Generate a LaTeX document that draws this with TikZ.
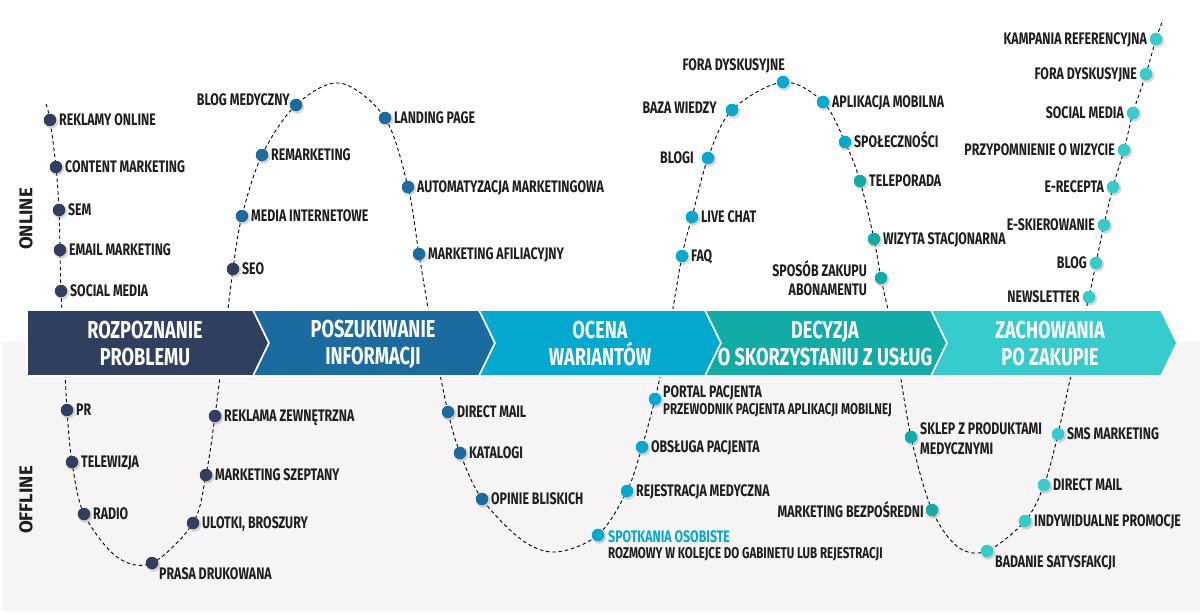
\documentclass[tikz,border=0pt]{standalone}
\usepackage{fontspec}
\setmainfont{Fira Sans}[FakeStretch=0.74]
\newfontfamily\sidefont{Fira Sans}
\usetikzlibrary{shadows}
\definecolor{cnavy}{HTML}{2E3F5F}
\definecolor{cblue}{HTML}{1B6BA1}
\definecolor{ccyan}{HTML}{03A9CF}
\definecolor{cteal}{HTML}{11ACA6}
\definecolor{clight}{HTML}{36CBCD}
\definecolor{cgray}{HTML}{F6F4F5}
\definecolor{ctext}{HTML}{1E1E1E}
\tikzset{
 curve/.style={draw=black, line width=0.9pt, dash pattern=on 3.5pt off 2.8pt},
 seg/.style={draw=white, line width=1.6pt},
 head/.style={text=white, font=\bfseries\fontsize{24.5}{27}\selectfont, align=center, inner sep=0pt},
 dot/.style={circle, fill=#1, minimum size=12.5pt, inner sep=0pt,
   circular drop shadow={shadow xshift=0.8pt, shadow yshift=-1.2pt, opacity=0.35, fill=black!45, shadow scale=1.2}},
 lab/.style={text=ctext, font=\bfseries\fontsize{16.7}{20}\selectfont, inner sep=0pt, text height=11.5pt, text depth=0pt},
 sublab/.style={text=ctext, font=\bfseries\fontsize{15.6}{18}\selectfont, inner sep=0pt, text height=10.7pt, text depth=0pt},
 side/.style={text=ctext, font=\sidefont\bfseries\fontsize{18.5}{20}\selectfont, rotate=90, inner sep=0pt},
}
\newcommand\dotR[3]{\node[dot=#2] (#1D) at (#1) {};
  \node[lab, anchor=west] (#1L) at ([xshift=2.5pt]#1D.east) {#3};}
\newcommand\dotL[3]{\node[dot=#2] (#1D) at (#1) {};
  \node[lab, anchor=east] (#1L) at ([xshift=-2.5pt]#1D.west) {#3};}
\newcommand\dotO[2]{\node[dot=#2] (#1D) at (#1) {};}
\begin{document}
\begin{tikzpicture}[x=1pt,y=-1pt]
\useasboundingbox (0,0) rectangle (1200,614);
\fill[white] (0,0) rectangle (1200,614);
\fill[cgray] (2,342) rectangle (1200,611);
% curve points
\coordinate (c0) at (46,104);
\coordinate (reklamy) at (50,120);
\coordinate (content) at (56,167);
\coordinate (sem) at (59,210);
\coordinate (email) at (60,250);
\coordinate (socialA) at (61,291);
\coordinate (b1) at (64,350);
\coordinate (pr) at (67,410);
\coordinate (telew) at (72,462);
\coordinate (radio) at (84,514);
\coordinate (u1) at (117,557);
\coordinate (prasa) at (152,563);
\coordinate (ulotki) at (193,523);
\coordinate (szept) at (206,475);
\coordinate (zewn) at (215,416);
\coordinate (b2) at (224,343);
\coordinate (seo) at (233,269);
\coordinate (media) at (242,216);
\coordinate (remark) at (262,155);
\coordinate (blogmed) at (296,105);
\coordinate (t1) at (340,83);
\coordinate (landing) at (385,118);
\coordinate (autom) at (408,187);
\coordinate (afil) at (419,254);
\coordinate (b3) at (434,343);
\coordinate (dmail) at (448,412);
\coordinate (katalogi) at (460,453);
\coordinate (opinie) at (482,499);
\coordinate (u2) at (522,540);
\coordinate (u2b) at (556,552);
\coordinate (spotk) at (598,535);
\coordinate (rejestr) at (627,491);
\coordinate (obsl) at (642,447);
\coordinate (portal) at (655,399);
\coordinate (b4) at (667,343);
\coordinate (faq) at (682,256);
\coordinate (live) at (692,217);
\coordinate (blogi) at (708,158);
\coordinate (baza) at (732,110);
\coordinate (fora) at (783,82);
\coordinate (aplik) at (823,102);
\coordinate (spol) at (845,142);
\coordinate (telep) at (860,181);
\coordinate (wizyta) at (874,239);
\coordinate (sposob) at (881,278);
\coordinate (b5) at (895,343);
\coordinate (sklep) at (911,437);
\coordinate (mbezp) at (932,510);
\coordinate (u3) at (958,547);
\coordinate (badanie) at (987,551);
\coordinate (indyw) at (1025,521);
\coordinate (dmailB) at (1044,485);
\coordinate (sms) at (1058,434);
\coordinate (b6) at (1078,343);
\coordinate (newsl) at (1089,297);
\coordinate (blog) at (1096,263);
\coordinate (eskier) at (1104,225);
\coordinate (erec) at (1113,187);
\coordinate (przyp) at (1124,150);
\coordinate (socialB) at (1133,113);
\coordinate (foraB) at (1146,74);
\coordinate (kamp) at (1156,39);
\coordinate (c1) at (1163,20);
\draw[curve] plot[smooth, tension=0.55] coordinates {(c0) (reklamy) (content) (sem) (email) (socialA) (b1) (pr) (telew) (radio) (u1) (prasa) (ulotki) (szept) (zewn) (b2) (seo) (media) (remark) (blogmed) (t1) (landing) (autom) (afil) (b3) (dmail) (katalogi) (opinie) (u2) (u2b) (spotk) (rejestr) (obsl) (portal) (b4) (faq) (live) (blogi) (baza) (fora) (aplik) (spol) (telep) (wizyta) (sposob) (b5) (sklep) (mbezp) (u3) (badanie) (indyw) (dmailB) (sms) (b6) (newsl) (blog) (eskier) (erec) (przyp) (socialB) (foraB) (kamp) (c1)};
% band
\filldraw[seg, fill=cnavy] (27,310) -- (253,310) -- (269,343) -- (253,376) -- (27,376) -- cycle;
\filldraw[seg, fill=cblue] (253,310) -- (479,310) -- (495,343) -- (479,376) -- (253,376) -- (269,343) -- cycle;
\filldraw[seg, fill=ccyan] (479,310) -- (705,310) -- (721,343) -- (705,376) -- (479,376) -- (495,343) -- cycle;
\filldraw[seg, fill=cteal] (705,310) -- (931,310) -- (947,343) -- (931,376) -- (705,376) -- (721,343) -- cycle;
\filldraw[seg, fill=clight] (931,310) -- (1161,310) -- (1177,343) -- (1161,376) -- (931,376) -- (947,343) -- cycle;
\node[head] (h1) at (145,344) {ROZPOZNANIE\\PROBLEMU};
\node[head] (h2) at (373,344) {POSZUKIWANIE\\INFORMACJI};
\node[head] (h3) at (600,344) {OCENA\\WARIANTÓW};
\node[head] (h4) at (825,344) {DECYZJA\\O SKORZYSTANIU Z USŁUG};
\node[head] (h5) at (1050,344) {ZACHOWANIA\\PO ZAKUPIE};
% side labels
\node[side] (online) at (26,219) {ONLINE};
\node[side] (offline) at (26,500) {OFFLINE};
% dots stage 1
\dotR{reklamy}{cnavy}{REKLAMY ONLINE}
\dotR{content}{cnavy}{CONTENT MARKETING}
\dotR{sem}{cnavy}{SEM}
\dotR{email}{cnavy}{EMAIL MARKETING}
\dotR{socialA}{cnavy}{SOCIAL MEDIA}
\dotR{pr}{cnavy}{PR}
\dotR{telew}{cnavy}{TELEWIZJA}
\dotR{radio}{cnavy}{RADIO}
\dotO{prasa}{cnavy}
\node[lab, anchor=west] (prasaL) at (159,574) {PRASA DRUKOWANA};
\dotR{ulotki}{cnavy}{ULOTKI, BROSZURY}
\dotR{szept}{cnavy}{MARKETING SZEPTANY}
\dotR{zewn}{cnavy}{REKLAMA ZEWNĘTRZNA}
\dotR{seo}{cnavy}{SEO}
% stage 2
\dotR{media}{cblue}{MEDIA INTERNETOWE}
\dotR{remark}{cblue}{REMARKETING}
\dotO{blogmed}{cblue}
\node[lab, anchor=east] (blogmedL) at (290,100) {BLOG MEDYCZNY};
\dotR{landing}{cblue}{LANDING PAGE}
\dotR{autom}{cblue}{AUTOMATYZACJA MARKETINGOWA}
\dotR{afil}{cblue}{MARKETING AFILIACYJNY}
\dotR{dmail}{cblue}{DIRECT MAIL}
\dotR{katalogi}{cblue}{KATALOGI}
\dotR{opinie}{cblue}{OPINIE BLISKICH}
% stage 3
\dotO{spotk}{ccyan}
\node[lab, anchor=west, text=ccyan] (spotkL) at (608,537) {SPOTKANIA OSOBISTE};
\node[sublab, anchor=west] (spotkS) at (608,553) {ROZMOWY W KOLEJCE DO GABINETU LUB REJESTRACJI};
\dotR{rejestr}{ccyan}{REJESTRACJA MEDYCZNA}
\dotR{obsl}{ccyan}{OBSŁUGA PACJENTA}
\dotO{portal}{ccyan}
\node[lab, anchor=west] (portalL) at (663,392) {PORTAL PACJENTA};
\node[sublab, anchor=west] (portalS) at (663,409) {PRZEWODNIK PACJENTA APLIKACJI MOBILNEJ};
\dotR{faq}{ccyan}{FAQ}
\dotR{live}{ccyan}{LIVE CHAT}
\dotO{blogi}{ccyan}
\node[lab, anchor=east] (blogiL) at (694,158) {BLOGI};
\dotO{baza}{ccyan}
\node[lab, anchor=east] (bazaL) at (717,108) {BAZA WIEDZY};
\dotO{fora}{ccyan}
\node[lab, anchor=east] (foraL) at (785,65) {FORA DYSKUSYJNE};
\dotR{aplik}{ccyan}{APLIKACJA MOBILNA}
\dotR{spol}{ccyan}{SPOŁECZNOŚCI}
% stage 4
\dotR{telep}{cteal}{TELEPORADA}
\dotR{wizyta}{cteal}{WIZYTA STACJONARNA}
\dotO{sposob}{cteal}
\node[lab, anchor=east] (sposobL) at (867,271) {SPOSÓB ZAKUPU};
\node[lab, anchor=east] (sposobM) at (867,290) {ABONAMENTU};
\dotO{sklep}{cteal}
\node[lab, anchor=west] (sklepL) at (920,429) {SKLEP Z PRODUKTAMI};
\node[lab, anchor=west] (sklepM) at (920,449) {MEDYCZNYMI};
\dotO{mbezp}{cteal}
\node[lab, anchor=east] (mbezpL) at (924,512) {MARKETING BEZPOŚREDNI};
% stage 5
\dotO{badanie}{clight}
\node[lab, anchor=west] (badanieL) at (995,562) {BADANIE SATYSFAKCJI};
\dotR{indyw}{clight}{INDYWIDUALNE PROMOCJE}
\dotR{dmailB}{clight}{DIRECT MAIL}
\dotR{sms}{clight}{SMS MARKETING}
\dotL{newsl}{clight}{NEWSLETTER}
\dotL{blog}{clight}{BLOG}
\dotL{eskier}{clight}{E-SKIEROWANIE}
\dotL{erec}{clight}{E-RECEPTA}
\dotL{przyp}{clight}{PRZYPOMNIENIE O WIZYCIE}
\dotL{socialB}{clight}{SOCIAL MEDIA}
\dotL{foraB}{clight}{FORA DYSKUSYJNE}
\dotL{kamp}{clight}{KAMPANIA REFERENCYJNA}
\end{tikzpicture}
\end{document}
